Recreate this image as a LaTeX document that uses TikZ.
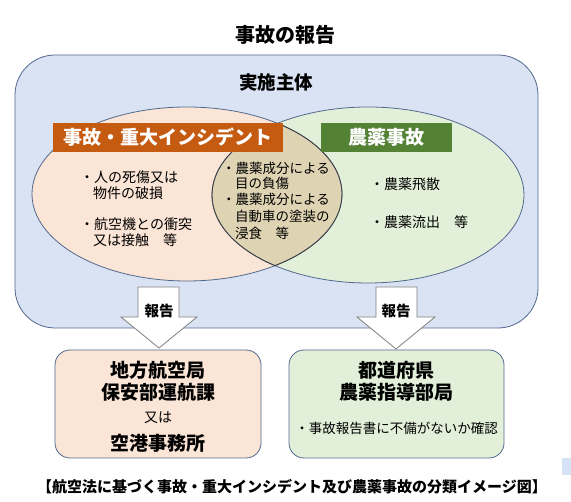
\documentclass[tikz,border=0pt]{standalone}
\usepackage{fontspec}
\setmainfont{Noto Sans CJK JP}
\definecolor{outerfill}{HTML}{DAE3F3}
\definecolor{edge}{HTML}{52698F}
\definecolor{peach}{HTML}{FBE5D6}
\definecolor{lgreen}{HTML}{E2F0D9}
\definecolor{tan}{HTML}{DED3B2}
\definecolor{orangelab}{HTML}{C55A11}
\definecolor{greenlab}{HTML}{548235}
\definecolor{arrowedge}{HTML}{7F7F7F}
\definecolor{darkedge}{HTML}{3F3F3F}
\definecolor{tinyblue}{HTML}{D6E2F5}
\tikzset{
  fs/.style={font=\fontsize{#1}{#1}\selectfont},
  bfs/.style={font=\fontsize{#1}{#1}\selectfont\bfseries},
  txt/.style={inner sep=0pt, anchor=west, fs=14},
  otxt/.style={inner sep=0pt, anchor=west, fs=13.5},
  lab/.style={inner sep=0pt, text=white, bfs=19},
  blockarrow/.style={fill=white, draw=arrowedge, line width=0.8pt, line join=miter},
  office/.style={rounded corners=15pt, draw=edge, line width=0.8pt},
}
\begin{document}
\begin{tikzpicture}[x=1pt,y=-1pt]
\useasboundingbox (0,0) rectangle (571,502);
\fill[white] (0,0) rectangle (571,502);
% title
\node[bfs=20, inner sep=0pt] (title) at (285,35) {事故の報告};
% outer box
\draw[fill=outerfill, draw=edge, line width=0.8pt, rounded corners=40pt] (15,55) rectangle (538,328);
\node[bfs=18.5, inner sep=0pt] (actor) at (276,82) {実施主体};
% ellipses
\fill[peach] (187,194) ellipse [x radius=155, y radius=87];
\fill[lgreen] (368,195) ellipse [x radius=156, y radius=88];
\begin{scope}
  \clip (187,194) ellipse [x radius=155, y radius=87];
  \fill[tan] (368,195) ellipse [x radius=156, y radius=88];
\end{scope}
\draw[edge, line width=0.8pt] (187,194) ellipse [x radius=155, y radius=87];
\draw[edge, line width=0.8pt] (368,195) ellipse [x radius=156, y radius=88];
\begin{scope}
  \clip (187,194) ellipse [x radius=155.5, y radius=87.5];
  \draw[darkedge, line width=0.8pt] (368,195) ellipse [x radius=156, y radius=88];
\end{scope}
\begin{scope}
  \clip (368,195) ellipse [x radius=156.5, y radius=88.5];
  \draw[darkedge, line width=0.8pt] (187,194) ellipse [x radius=155, y radius=87];
\end{scope}
% labels
\fill[orangelab] (53,123) rectangle (283,152);
\node[lab] (labA) at (168,137.5) {事故・重大インシデント};
\fill[greenlab] (321,123) rectangle (452,152);
\node[lab] (labB) at (386.5,137.5) {農薬事故};
% left ellipse text
\node[txt] (a1) at (80,177) {・人の死傷又は};
\node[txt] (a2) at (93,193) {物件の破損};
\node[txt] (a3) at (80,224) {・航空機との衝突};
\node[txt] (a4) at (93,240) {又は接触　等};
% overlap text
\node[otxt] (c1) at (222,168) {・農薬成分による};
\node[otxt] (c2) at (235,183) {目の負傷};
\node[otxt] (c3) at (222,199) {・農薬成分による};
\node[otxt] (c4) at (235,216) {自動車の塗装の};
\node[otxt] (c5) at (235,233) {浸食　等};
% right ellipse text
\node[txt] (b1) at (370,184) {・農薬飛散};
\node[txt] (b2) at (370,222) {・農薬流出　等};
% block arrows
\draw[blockarrow] (138,287) -- (179,287) -- (179,317) -- (197,317) -- (159,348) -- (121,317) -- (138,317) -- cycle;
\node[bfs=14.5, inner sep=0pt] (r1) at (159,311) {報告};
\draw[blockarrow] (376,287) -- (417,287) -- (417,317) -- (435,317) -- (396,349) -- (357,317) -- (376,317) -- cycle;
\node[bfs=14.5, inner sep=0pt] (r2) at (396,311) {報告};
% bottom boxes
\draw[office, fill=peach] (55,350) rectangle (261,458);
\node[bfs=19, inner sep=0pt] (d1) at (158,370) {地方航空局};
\node[bfs=19, inner sep=0pt] (d2) at (158,392) {保安部運航課};
\node[fs=14, inner sep=0pt] (d3) at (158,418) {又は};
\node[bfs=19, inner sep=0pt] (d4) at (158,443) {空港事務所};
\draw[office, fill=lgreen] (289,350) rectangle (504,458);
\node[bfs=19, inner sep=0pt] (e1) at (396.5,370) {都道府県};
\node[bfs=19, inner sep=0pt] (e2) at (396.5,392) {農薬指導部局};
\node[fs=13.5, inner sep=0pt] (e3) at (396.5,428) {・事故報告書に不備がないか確認};
% caption
\node[bfs=15, inner sep=0pt] (cap) at (292,487) {【航空法に基づく事故・重大インシデント及び農薬事故の分類イメージ図】};
\fill[tinyblue] (562,458) rectangle (571,475);
\end{tikzpicture}
\end{document}
